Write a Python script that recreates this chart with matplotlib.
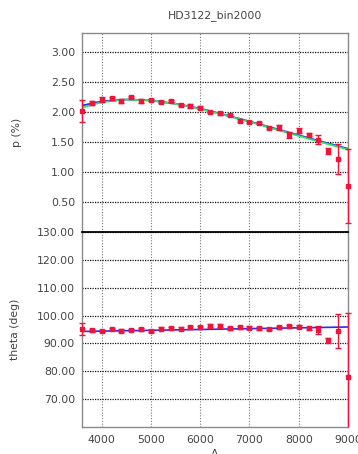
import matplotlib
matplotlib.use("Agg")
import matplotlib.pyplot as plt
from matplotlib.patches import Rectangle

# ---- data ----
wavelength = [3600, 3800, 4000, 4200, 4400, 4600, 4800, 5000, 5200, 5400,
              5600, 5800, 6000, 6200, 6400, 6600, 6800, 7000, 7200, 7400,
              7600, 7800, 8000, 8200, 8400, 8600, 8800, 9000]
p_pct = [2.02, 2.15, 2.21, 2.23, 2.19, 2.25, 2.19, 2.205, 2.17, 2.19,
         2.12, 2.105, 2.075, 2.00, 1.98, 1.955, 1.86, 1.84, 1.82, 1.735,
         1.745, 1.625, 1.69, 1.625, 1.54, 1.345, 1.22, 0.77]
p_err = [0.18, 0.03, 0.04, 0.03, 0.03, 0.02, 0.03, 0.02, 0.02, 0.02,
         0.02, 0.03, 0.02, 0.02, 0.02, 0.02, 0.02, 0.02, 0.02, 0.02,
         0.04, 0.05, 0.04, 0.03, 0.07, 0.05, 0.25, 0.62]
theta_deg = [95.2, 94.7, 94.5, 95.2, 94.6, 94.8, 95.1, 94.5, 95.3, 95.4,
             95.3, 95.8, 95.8, 96.3, 96.4, 95.5, 95.8, 95.7, 95.4, 95.2,
             95.8, 96.2, 96.0, 95.4, 94.9, 91.1, 94.5, 77.9]
theta_err = [2.2, 0.6, 0.5, 0.5, 0.5, 0.5, 0.5, 0.5, 0.5, 0.5,
             0.5, 0.5, 0.5, 0.5, 0.5, 0.5, 0.5, 0.5, 0.5, 0.5,
             0.5, 0.5, 0.5, 0.5, 1.4, 1.0, 6.0, 23.0]

fit_wl = [3600, 4000, 4500, 5000, 5500, 6000, 6500, 7000, 7500, 8000, 8500, 9000]
p_fit_blue = [2.11, 2.18, 2.21, 2.195, 2.14, 2.06, 1.955, 1.845, 1.73, 1.615, 1.50, 1.39]
p_fit_green = [2.075, 2.165, 2.209, 2.194, 2.137, 2.052, 1.949, 1.837, 1.72, 1.602, 1.487, 1.377]
theta_fit_wl = [3600, 9000]
theta_fit = [94.3, 95.9]

p_ticks = [0.5, 1.0, 1.5, 2.0, 2.5, 3.0]
theta_ticks = [70, 80, 90, 100, 110, 120, 130]
x_ticks = [4000, 5000, 6000, 7000, 8000, 9000]

title = "HD3122_bin2000"

# ---- style ----
W, H = 358, 454
fig = plt.figure(figsize=(W / 100, H / 100), dpi=100)
fig.patch.set_facecolor("white")

left, right = 82, 348
top1, mid, bot2 = 33, 232, 427
ax1 = fig.add_axes([left / W, 1 - mid / H, (right - left) / W, (mid - top1) / H])
ax2 = fig.add_axes([left / W, 1 - bot2 / H, (right - left) / W, (bot2 - mid) / H])

red = "#f0143c"
txt_color = "#444444"
fs = 7.8

for ax in (ax1, ax2):
    ax.set_xlim(3600, 9000)
    ax.set_xticks(x_ticks)
    for s in ax.spines.values():
        s.set_color("#8a8a8a")
        s.set_linewidth(1.0)
    ax.tick_params(length=0, pad=5, labelsize=fs, labelcolor=txt_color)
    ax.grid(axis="x", color="#777777", linestyle=(0, (1, 1.5)), linewidth=0.8)
    ax.grid(axis="y", color="#111111", linestyle=(0, (1, 1)), linewidth=0.9)
    ax.set_axisbelow(True)

ax1.spines["bottom"].set_visible(False)
ax2.spines["top"].set_color("black")
ax2.spines["top"].set_linewidth(1.3)
ax2.spines["top"].set_zorder(6)


def clip_wide(ax, container):
    rect = Rectangle((-0.03, 0), 1.06, 1, transform=ax.transAxes,
                     facecolor="none", edgecolor="none")
    ax.add_patch(rect)
    line, caps, bars = container.lines
    arts = [line] + list(caps) + list(bars)
    for a in arts:
        a.set_clip_path(rect)


# top panel
ax1.set_ylim(0, 3.32)
ax1.set_yticks(p_ticks)
ax1.set_yticklabels(["%.2f" % v for v in p_ticks])
ax1.tick_params(axis="x", labelbottom=False)
ax1.plot(fit_wl, p_fit_blue, color="#2a2aff", lw=1.3, zorder=3)
ax1.plot(fit_wl, p_fit_green, color="#2ee860", lw=1.3, zorder=4)
c1 = ax1.errorbar(wavelength, p_pct, yerr=p_err, fmt="s", color=red, ecolor=red,
                  ms=3.2, mec=red, elinewidth=1.0, capsize=2.5, capthick=1.0, zorder=5)
clip_wide(ax1, c1)
ax1.set_ylabel("p (%)", fontsize=fs, color=txt_color)
ax1.yaxis.set_label_coords(-(left - 22) / (right - left), 0.5)
ax1.set_title(title, fontsize=fs, color=txt_color, pad=11)

# bottom panel
ax2.set_ylim(60, 130)
ax2.set_yticks(theta_ticks)
ax2.set_yticklabels(["%.2f" % v for v in theta_ticks])
ax2.plot(theta_fit_wl, theta_fit, color="#2a2aff", lw=1.2, zorder=3)
c2 = ax2.errorbar(wavelength, theta_deg, yerr=theta_err, fmt="s", color=red, ecolor=red,
                  ms=3.2, mec=red, elinewidth=1.0, capsize=2.5, capthick=1.0, zorder=5)
clip_wide(ax2, c2)
ax2.set_ylabel("theta (deg)", fontsize=fs, color=txt_color)
ax2.yaxis.set_label_coords(-(left - 20) / (right - left), 0.5)
ax2.tick_params(axis="x", pad=6)

fig.text((left + right) / 2 / W, 1 - 449 / H, "A", ha="center", va="top",
         fontsize=fs, color=txt_color)

fig.savefig("out.png", dpi=100, facecolor="white")
